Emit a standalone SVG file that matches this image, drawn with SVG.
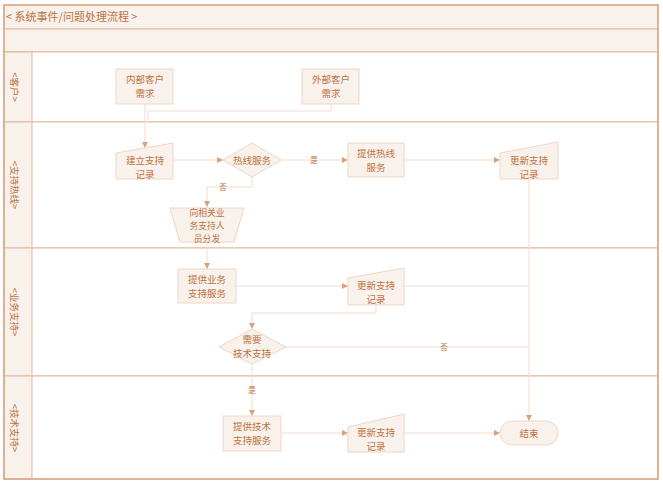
<svg xmlns="http://www.w3.org/2000/svg" width="663" height="484" viewBox="0 0 663 484">
<defs>
<marker id="ah" viewBox="0 0 6 6" refX="6" refY="3" markerWidth="6" markerHeight="6" orient="auto" markerUnits="userSpaceOnUse">
<path d="M0,0 L6,3 L0,6 z" fill="#d9a27f"/>
</marker>
</defs>
<style>
.lane{fill:#ffffff;stroke:#e2b89c;stroke-width:1}
.band{fill:#f8f1ec;stroke:#e2b89c;stroke-width:1}
.node{fill:#f8f1ec;stroke:#efd5c5;stroke-width:1}
.t{font-family:"Noto Sans CJK SC","Liberation Sans",sans-serif;font-size:9.5px;fill:#c0713d;text-anchor:middle}
.t3{font-family:"Noto Sans CJK SC","Liberation Sans",sans-serif;font-size:8.8px;fill:#c0713d;text-anchor:middle}
.lbl{font-family:"Noto Sans CJK SC","Liberation Sans",sans-serif;font-size:7.5px;fill:#c0713d;text-anchor:middle}
.c{fill:none;stroke:#f2dccf;stroke-width:1}
.ca{fill:none;stroke:#f2dccf;stroke-width:1;marker-end:url(#ah)}
</style>
<rect x="0" y="0" width="663" height="484" fill="#ffffff"/>
<g id="frame">
<rect class="band" x="4" y="5" width="654" height="24"/>
<rect class="band" x="4" y="29" width="654" height="23"/>
<rect class="lane" x="4" y="52" width="654" height="70"/>
<rect class="lane" x="4" y="122" width="654" height="126"/>
<rect class="lane" x="4" y="248" width="654" height="128"/>
<rect class="lane" x="4" y="376" width="654" height="103"/>
<rect class="band" x="4" y="52" width="28" height="70"/>
<rect class="band" x="4" y="122" width="28" height="126"/>
<rect class="band" x="4" y="248" width="28" height="128"/>
<rect class="band" x="4" y="376" width="28" height="103"/>
<rect x="4" y="5" width="654" height="474" fill="none" stroke="#dca584" stroke-width="1.5"/>
<text x="6" y="21" font-family="Noto Sans CJK SC, Liberation Sans, sans-serif" font-size="11" fill="#c0713d">&lt; 系统事件/问题处理流程 &gt;</text>
<text class="t" transform="translate(14,87) rotate(90)" dominant-baseline="middle">&lt;客户&gt;</text>
<text class="t" transform="translate(14,185) rotate(90)" dominant-baseline="middle">&lt;支持热线&gt;</text>
<text class="t" transform="translate(14,312) rotate(90)" dominant-baseline="middle">&lt;业务支持&gt;</text>
<text class="t" transform="translate(14,428) rotate(90)" dominant-baseline="middle">&lt;技术支持&gt;</text>
</g>
<g id="connectors">
<path class="ca" d="M145,104 L145,148"/>
<path class="c" d="M331,104 L331,111 L148,111 L148,120"/>
<path class="ca" d="M173,160 L223,160"/>
<path class="ca" d="M281,160 L348,160"/>
<text class="lbl" x="314" y="163">是</text>
<path class="ca" d="M404,160 L500,160"/>
<path class="ca" d="M529,179 L529,421"/>
<path class="ca" d="M252,177 L252,187 L207,187 L207,207"/>
<text class="lbl" x="223" y="190">否</text>
<path class="ca" d="M207,242 L207,269"/>
<path class="ca" d="M236,286 L348,286"/>
<path class="c" d="M404,286 L529,286"/>
<path class="ca" d="M376,305 L376,313 L252,313 L252,329"/>
<path class="c" d="M286,347 L529,347"/>
<text class="lbl" x="444" y="350">否</text>
<path class="ca" d="M252,364 L252,416"/>
<text class="lbl" x="252" y="393">是</text>
<path class="ca" d="M281,433 L348,433"/>
<path class="ca" d="M404,433 L500,433"/>
</g>
<g id="n1"><rect class="node" x="116" y="69" width="57" height="35"/><text class="t" x="145" y="83">内部客户<tspan x="145" dy="14">需求</tspan></text></g>
<g id="n2"><rect class="node" x="302" y="69" width="57" height="35"/><text class="t" x="331" y="83">外部客户<tspan x="331" dy="14">需求</tspan></text></g>
<g id="n3"><path class="node" d="M116,153 L173,143 L173,179 L116,179 z"/><text class="t" x="145" y="164">建立支持<tspan x="145" dy="14">记录</tspan></text></g>
<g id="n4"><path class="node" d="M223,160 L252,143 L281,160 L252,177 z"/><text class="t" x="252" y="164">热线服务</text></g>
<g id="n5"><rect class="node" x="348" y="143" width="56" height="34"/><text class="t" x="376" y="157">提供热线<tspan x="376" dy="14">服务</tspan></text></g>
<g id="n6"><path class="node" d="M500,153 L558,142 L558,179 L500,179 z"/><text class="t" x="529" y="164">更新支持<tspan x="529" dy="14">记录</tspan></text></g>
<g id="n7"><path class="node" d="M170,208 L244,208 L234,242 L180,242 z"/><text class="t3" x="207" y="216">向相关业<tspan x="207" dy="12.8">务支持人</tspan><tspan x="207" dy="12.8">员分发</tspan></text></g>
<g id="n8"><rect class="node" x="178" y="269" width="58" height="34"/><text class="t" x="207" y="283">提供业务<tspan x="207" dy="14">支持服务</tspan></text></g>
<g id="n9"><path class="node" d="M348,278 L404,268 L404,305 L348,305 z"/><text class="t" x="376" y="289">更新支持<tspan x="376" dy="14">记录</tspan></text></g>
<g id="n10"><path class="node" d="M219,347 L252,329 L286,347 L252,364 z"/><text class="t" x="252" y="343">需要<tspan x="252" dy="14">技术支持</tspan></text></g>
<g id="n11"><rect class="node" x="223" y="416" width="58" height="35"/><text class="t" x="252" y="430">提供技术<tspan x="252" dy="14">支持服务</tspan></text></g>
<g id="n12"><path class="node" d="M348,427 L404,414 L404,452 L348,452 z"/><text class="t" x="376" y="436">更新支持<tspan x="376" dy="14">记录</tspan></text></g>
<g id="n13"><rect class="node" x="500" y="421" width="58" height="24" rx="12"/><text class="t" x="529" y="437">结束</text></g>
</svg>
